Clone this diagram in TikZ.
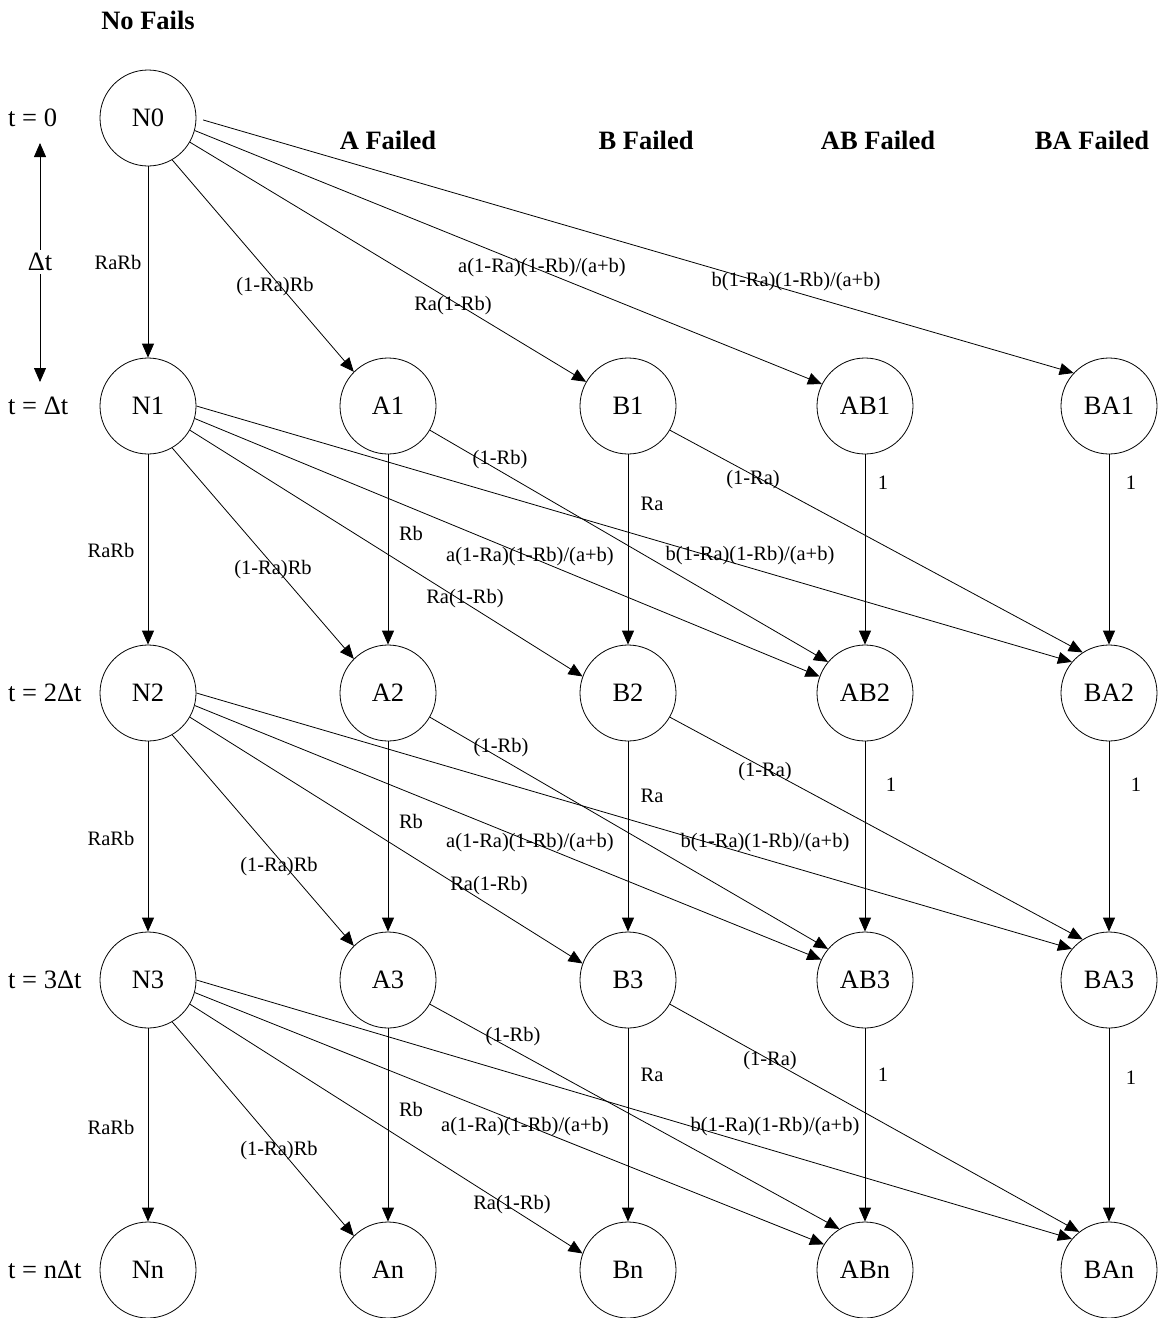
\documentclass[tikz,border=0pt]{standalone}
\usepackage{fontspec}
\setmainfont{Liberation Serif}
\usetikzlibrary{arrows.meta}
\begin{document}
\begin{tikzpicture}[x=1pt,y=-1pt,
  state/.style={draw,circle,minimum size=96pt,inner sep=0pt,line width=0.8pt,
                font=\fontsize{26.5}{30}\selectfont},
  hdr/.style={font=\fontsize{26.5}{30}\selectfont\bfseries,inner sep=0pt},
  tlab/.style={font=\fontsize{26.5}{30}\selectfont,anchor=west,inner sep=0pt},
  elab/.style={font=\fontsize{20.5}{24}\selectfont,inner sep=0pt},
  link/.style={line width=0.8pt,-{Triangle[length=14pt,width=12pt]}}]
\path[use as bounding box,fill=white] (0,0) rectangle (1159,1318);

% column headers
\node[hdr] (hN)  at (148,20)  {No Fails};
\node[hdr] (hA)  at (388,140) {A Failed};
\node[hdr] (hB)  at (646,140) {B Failed};
\node[hdr] (hAB) at (878,140) {AB Failed};
\node[hdr] (hBA) at (1092,140) {BA Failed};

% time stamps
\node[tlab] (t0) at (8,118)  {t = 0};
\node[tlab] (t1) at (8,406)  {t = Δt};
\node[tlab] (t2) at (8,693)  {t = 2Δt};
\node[tlab] (t3) at (8,980)  {t = 3Δt};
\node[tlab] (tn) at (8,1270) {t = nΔt};

% time step marker
\coordinate (dtTop) at (40,143);
\coordinate (dtBot) at (40,382);
\draw[line width=0.8pt,{Triangle[length=14pt,width=12pt]}-{Triangle[length=14pt,width=12pt]}] (dtTop) -- (dtBot);
\node[tlab,anchor=center,fill=white,inner sep=3pt] (dt) at (40,262) {Δt};

% states
\foreach \r/\y in {0/118,1/406,2/693,3/980,n/1270}{
  \node[state] (N\r)  at (148,\y)  {N\r};
}
\foreach \r/\y in {1/406,2/693,3/980,n/1270}{
  \node[state] (A\r)  at (388,\y)  {A\r};
  \node[state] (B\r)  at (628,\y)  {B\r};
  \node[state] (AB\r) at (865,\y)  {AB\r};
  \node[state] (BA\r) at (1109,\y) {BA\r};
}

% transitions out of the no-fail states
\foreach \s/\t/\bb/\ab/\ba/\sh in {0/1/150/153/137/7, 1/2/160/160/140/0, 2/3/160/155/140/0, 3/n/160/148/140/0}{
  \draw[link] (N\s.-90) -- (N\t.90);
  \draw[link] (N\s.-60) -- (A\t.135);
  \draw[link] (N\s.-30) -- (B\t.\bb);
  \draw[link] (N\s.-15) -- (AB\t.\ab);
  \draw[link,shorten <=\sh pt] (N\s.0) -- (BA\t.\ba);
}

% transitions out of the single-failure and double-failure states
\foreach \s/\t/\aab/\bba in {1/2/140/123, 2/3/140/123, 3/n/122/128}{
  \draw[link] (A\s.-90) -- (A\t.90);
  \draw[link] (A\s.-30) -- (AB\t.\aab);
  \draw[link] (B\s.-90) -- (B\t.90);
  \draw[link] (B\s.-30) -- (BA\t.\bba);
  \draw[link] (AB\s.-90) -- (AB\t.90);
  \draw[link] (BA\s.-90) -- (BA\t.90);
}

% probabilities, step 0 -> 1
\node[elab] (p0a) at (118,262) {RaRb};
\node[elab] (p0b) at (275,287) {(1-Ra)Rb};
\node[elab] (p0c) at (453,306) {Ra(1-Rb)};
\node[elab] (p0d) at (542,268) {a(1-Ra)(1-Rb)/(a+b)};
\node[elab] (p0e) at (796,282) {b(1-Ra)(1-Rb)/(a+b)};

% probabilities, step 1 -> 2
\node[elab] (p1a) at (111,550) {RaRb};
\node[elab] (p1b) at (273,570) {(1-Ra)Rb};
\node[elab] (p1c) at (465,599) {Ra(1-Rb)};
\node[elab] (p1d) at (530,557) {a(1-Ra)(1-Rb)/(a+b)};
\node[elab] (p1e) at (750,556) {b(1-Ra)(1-Rb)/(a+b)};
\node[elab] (p1f) at (411,533) {Rb};
\node[elab] (p1g) at (500,460) {(1-Rb)};
\node[elab] (p1h) at (652,504) {Ra};
\node[elab] (p1i) at (753,480) {(1-Ra)};
\node[elab] (p1j) at (883,483) {1};
\node[elab] (p1k) at (1131,483) {1};

% probabilities, step 2 -> 3
\node[elab] (p2a) at (111,838) {RaRb};
\node[elab] (p2b) at (279,867) {(1-Ra)Rb};
\node[elab] (p2c) at (489,886) {Ra(1-Rb)};
\node[elab] (p2d) at (530,843) {a(1-Ra)(1-Rb)/(a+b)};
\node[elab] (p2e) at (765,843) {b(1-Ra)(1-Rb)/(a+b)};
\node[elab] (p2f) at (411,821) {Rb};
\node[elab] (p2g) at (501,748) {(1-Rb)};
\node[elab] (p2h) at (652,796) {Ra};
\node[elab] (p2i) at (765,772) {(1-Ra)};
\node[elab] (p2j) at (891,785) {1};
\node[elab] (p2k) at (1136,785) {1};

% probabilities, step 3 -> n
\node[elab] (p3a) at (111,1127) {RaRb};
\node[elab] (p3b) at (279,1151) {(1-Ra)Rb};
\node[elab] (p3c) at (512,1205) {Ra(1-Rb)};
\node[elab] (p3d) at (525,1127) {a(1-Ra)(1-Rb)/(a+b)};
\node[elab] (p3e) at (775,1127) {b(1-Ra)(1-Rb)/(a+b)};
\node[elab] (p3f) at (411,1109) {Rb};
\node[elab] (p3g) at (513,1037) {(1-Rb)};
\node[elab] (p3h) at (652,1075) {Ra};
\node[elab] (p3i) at (770,1061) {(1-Ra)};
\node[elab] (p3j) at (883,1075) {1};
\node[elab] (p3k) at (1131,1078) {1};
\end{tikzpicture}
\end{document}
